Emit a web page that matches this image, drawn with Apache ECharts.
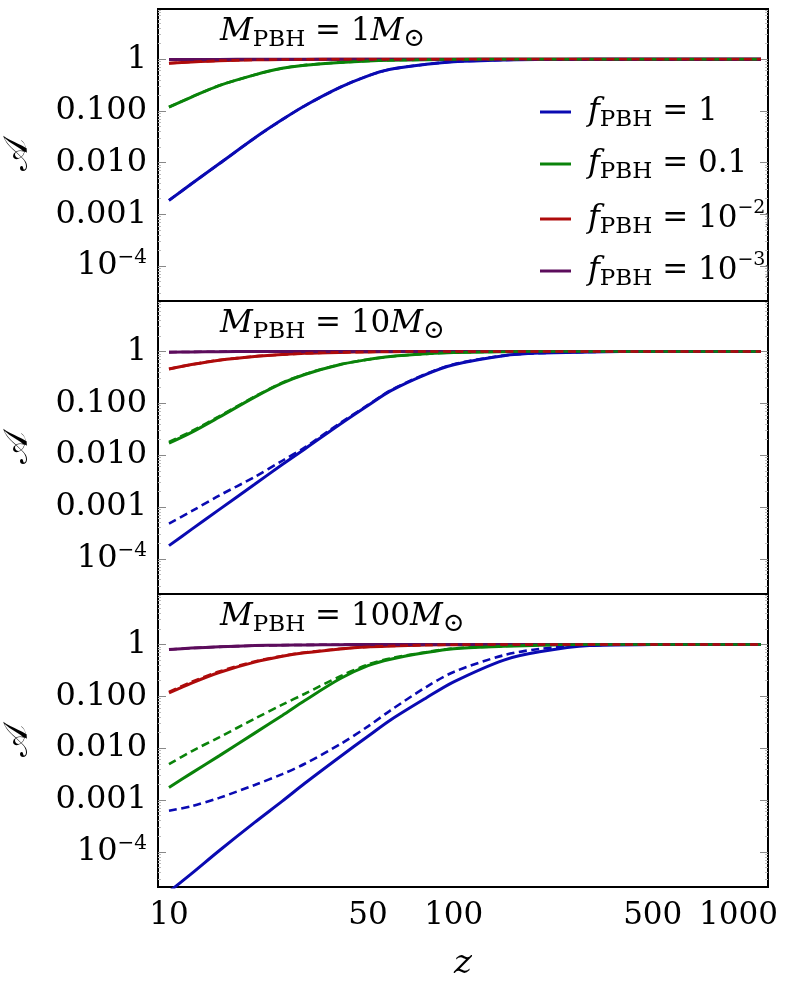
<!DOCTYPE html>
<html>
<head>
<meta charset="utf-8">
<script src="https://cdn.jsdelivr.net/npm/echarts@6/dist/echarts.min.js"></script>
<style>
html, body { margin: 0; padding: 0; background: #fff; }
#chart { width: 789px; height: 986px; }
</style>
</head>
<body>
<div id="chart"></div>
<script>
// redshift samples shared by every curve
const zValues = [10, 12, 15, 20, 25, 30, 40, 50, 60, 80, 100, 150, 200, 300, 500, 700, 1000, 1200];

// M_PBH = 1 Msun
const m1_f1 = [0.00186, 0.0039, 0.0095, 0.030, 0.068, 0.126, 0.288, 0.479, 0.64, 0.80, 0.90, 0.973, 0.991, 0.998, 1, 1, 1, 1];
const m1_f1_dash = [0.00186, 0.0039, 0.0095, 0.030, 0.068, 0.126, 0.288, 0.479, 0.64, 0.80, 0.90, 0.973, 0.991, 0.998, 1, 1, 1, 1];
const m1_f01 = [0.119, 0.186, 0.31, 0.50, 0.67, 0.77, 0.87, 0.93, 0.96, 0.984, 0.995, 1, 1, 1, 1, 1, 1, 1];
const m1_f01_dash = [0.119, 0.186, 0.31, 0.50, 0.67, 0.77, 0.87, 0.93, 0.96, 0.984, 0.995, 1, 1, 1, 1, 1, 1, 1];
const m1_f001 = [0.84, 0.89, 0.94, 0.975, 0.99, 0.995, 1, 1, 1, 1, 1, 1, 1, 1, 1, 1, 1, 1];
const m1_f001_dash = [0.84, 0.89, 0.94, 0.975, 0.99, 0.995, 1, 1, 1, 1, 1, 1, 1, 1, 1, 1, 1, 1];
const m1_f0001 = [0.985, 0.99, 0.995, 1, 1, 1, 1, 1, 1, 1, 1, 1, 1, 1, 1, 1, 1, 1];

// M_PBH = 10 Msun
const m10_f1 = [0.00018, 0.00037, 0.00089, 0.00275, 0.0066, 0.0132, 0.040, 0.091, 0.174, 0.363, 0.556, 0.83, 0.93, 0.98, 1, 1, 1, 1];
const m10_f1_dash = [0.00048, 0.00083, 0.00166, 0.0038, 0.0078, 0.0141, 0.042, 0.093, 0.178, 0.37, 0.565, 0.835, 0.93, 0.98, 1, 1, 1, 1];
const m10_f01 = [0.017, 0.0275, 0.054, 0.132, 0.245, 0.36, 0.56, 0.70, 0.80, 0.90, 0.955, 0.99, 1, 1, 1, 1, 1, 1];
const m10_f01_dash = [0.018, 0.029, 0.056, 0.135, 0.25, 0.365, 0.565, 0.70, 0.80, 0.90, 0.955, 0.99, 1, 1, 1, 1, 1, 1];
const m10_f001 = [0.46, 0.56, 0.68, 0.80, 0.87, 0.92, 0.96, 0.98, 0.99, 1, 1, 1, 1, 1, 1, 1, 1, 1];
const m10_f001_dash = [0.46, 0.56, 0.68, 0.80, 0.87, 0.92, 0.96, 0.98, 0.99, 1, 1, 1, 1, 1, 1, 1, 1, 1];
const m10_f0001 = [0.97, 0.98, 0.99, 1, 1, 1, 1, 1, 1, 1, 1, 1, 1, 1, 1, 1, 1, 1];

// M_PBH = 100 Msun
const m100_f1 = [0.000017, 0.000038, 0.000105, 0.00037, 0.00095, 0.0021, 0.0069, 0.017, 0.035, 0.093, 0.19, 0.50, 0.72, 0.95, 0.995, 1, 1, 1];
const m100_f1_dash = [0.00062, 0.00076, 0.0011, 0.00195, 0.00316, 0.0050, 0.0120, 0.0263, 0.0537, 0.151, 0.295, 0.62, 0.82, 0.966, 1, 1, 1, 1];
const m100_f01 = [0.00174, 0.0033, 0.0071, 0.0195, 0.0427, 0.083, 0.22, 0.39, 0.52, 0.70, 0.83, 0.92, 0.97, 0.993, 1, 1, 1, 1];
const m100_f01_dash = [0.0049, 0.0087, 0.0162, 0.037, 0.069, 0.112, 0.245, 0.41, 0.54, 0.71, 0.84, 0.93, 0.975, 0.995, 1, 1, 1, 1];
const m100_f001 = [0.116, 0.18, 0.288, 0.457, 0.59, 0.69, 0.82, 0.90, 0.933, 0.973, 0.989, 1, 1, 1, 1, 1, 1, 1];
const m100_f001_dash = [0.122, 0.19, 0.30, 0.47, 0.60, 0.70, 0.825, 0.90, 0.935, 0.974, 0.99, 1, 1, 1, 1, 1, 1, 1];
const m100_f0001 = [0.80, 0.85, 0.90, 0.95, 0.97, 0.98, 0.99, 1, 1, 1, 1, 1, 1, 1, 1, 1, 1, 1];

const xTickValues = [10, 50, 100, 500, 1000];
const yTickValues = [1e-4, 1e-3, 1e-2, 1e-1, 1];
const yTickLabels = ['{n|10}{s|−4}', '0.001', '0.010', '0.100', '1'];
const panelMasses = ['1', '10', '100'];

const fNames = ['f1', 'f01', 'f001', 'f0001'];
const fLabels = ['1', '0.1', '10{s|−2}', '10{s|−3}'];
const colors = ['#0a0ab2', '#0a830a', '#ae0b0b', '#5c0c5c'];

const panels = [
    { solid: [m1_f1, m1_f01, m1_f001, m1_f0001], dash: [m1_f1_dash, m1_f01_dash, m1_f001_dash, m1_f0001] },
    { solid: [m10_f1, m10_f01, m10_f001, m10_f0001], dash: [m10_f1_dash, m10_f01_dash, m10_f001_dash, m10_f0001] },
    { solid: [m100_f1, m100_f01, m100_f001, m100_f0001], dash: [m100_f1_dash, m100_f01_dash, m100_f001_dash, m100_f0001] }
];

const serif = 'DejaVu Serif';
const gridTops = [9, 301, 594];
const gridHeights = [292, 293, 293];

const pairs = ys => zValues.map((z, i) => [z, ys[i]]);

const yFormatter = v => {
    const k = yTickValues.findIndex(t => Math.abs(Math.log10(v) - Math.log10(t)) < 1e-6);
    return k < 0 ? '' : yTickLabels[k];
};

const grid = gridTops.map((top, i) => ({
    left: 158, width: 610, top: top, height: gridHeights[i],
    show: true, borderColor: '#000', borderWidth: 2,
    outerBoundsMode: 'none'
}));

const xAxis = gridTops.map((_, i) => ({
    type: 'log', gridIndex: i, min: 9.15, max: 1270,
    axisLine: { show: false },
    axisTick: { show: false },
    splitLine: { show: false },
    axisLabel: {
        show: i === 2,
        customValues: xTickValues,
        formatter: v => String(Math.round(v)),
        fontFamily: serif, fontSize: 31, color: '#000', margin: 13
    },
    name: i === 2 ? 'z' : '',
    nameLocation: 'middle',
    nameGap: 60,
    nameTextStyle: { fontFamily: serif, fontStyle: 'italic', fontSize: 34, color: '#000' }
}));

const yAxis = [];
gridTops.forEach((_, i) => {
    yAxis.push({
        type: 'log', gridIndex: i, min: 2.1e-5, max: 9.4,
        axisLine: { show: false },
        splitLine: { show: false },
        axisTick: { inside: true, length: 8, customValues: yTickValues, lineStyle: { color: '#888' } },
        minorTick: { show: true, splitNumber: 9, length: 3, lineStyle: { color: '#bbb' } },
        axisLabel: {
            customValues: yTickValues,
            formatter: yFormatter,
            fontFamily: serif, fontSize: 32, color: '#000', margin: 11,
            rich: {
                n: { fontFamily: serif, fontSize: 32, color: '#000', lineHeight: 36 },
                s: { fontFamily: serif, fontSize: 20, color: '#000', lineHeight: 16, verticalAlign: 'top' }
            }
        },
        name: '𝒜',
        nameLocation: 'middle',
        nameRotate: 90,
        nameGap: 123,
        nameTextStyle: { fontFamily: serif, fontSize: 34, color: '#000' }
    });
    yAxis.push({
        type: 'log', gridIndex: i, min: 2.1e-5, max: 9.4, position: 'right',
        axisLine: { show: false },
        splitLine: { show: false },
        axisLabel: { show: false },
        axisTick: { inside: true, length: 8, customValues: yTickValues, lineStyle: { color: '#888' } },
        minorTick: { show: true, splitNumber: 9, length: 3, lineStyle: { color: '#bbb' } }
    });
});

const series = [];
panels.forEach((p, i) => {
    const base = { type: 'line', xAxisIndex: i, yAxisIndex: i * 2, symbol: 'none', smooth: 0.3, silent: true };
    p.solid.forEach((ys, k) => {
        series.push(Object.assign({}, base, {
            name: fNames[k], data: pairs(ys),
            lineStyle: { color: colors[k], width: 3 }, itemStyle: { color: colors[k] }
        }));
    });
    [3, 0, 1, 2].forEach(k => {
        series.push(Object.assign({}, base, {
            name: fNames[k] + ' dashed', data: pairs(p.dash[k]),
            lineStyle: { color: colors[k], width: 2.6, type: [8, 4.5] }
        }));
    });
});

const titleRich = {
    m: { fontFamily: serif, fontStyle: 'italic', fontWeight: 'normal', fontSize: 32, color: '#000', lineHeight: 40 },
    p: { fontFamily: serif, fontWeight: 'normal', fontSize: 23, color: '#000', lineHeight: 22, verticalAlign: 'bottom' },
    e: { fontFamily: serif, fontWeight: 'normal', fontSize: 31, color: '#000', lineHeight: 40 },
    o: { fontFamily: serif, fontWeight: 'normal', fontSize: 26, color: '#000', lineHeight: 24, verticalAlign: 'bottom' }
};
const title = panelMasses.map((m, i) => ({
    left: 215, top: gridTops[i] - 2,
    text: '{m|M}{p|PBH}{e| = ' + m + '}{m|M}{o|⊙}',
    textStyle: { fontWeight: 'normal', rich: titleRich }
}));

const legendRich = {
    f: { fontFamily: serif, fontStyle: 'italic', fontSize: 32, color: '#000', lineHeight: 40, padding: [0, 0, 0, 12] },
    p: { fontFamily: serif, fontSize: 23, color: '#000', lineHeight: 22, verticalAlign: 'bottom' },
    e: { fontFamily: serif, fontSize: 31, color: '#000', lineHeight: 40 },
    s: { fontFamily: serif, fontSize: 19, color: '#000', lineHeight: 16, verticalAlign: 'top' }
};
const legendRows = [111, 163, 214, 266];
const legend = fNames.map((name, k) => ({
    data: [name],
    left: 535, top: legendRows[k] - 20,
    icon: 'rect', itemWidth: 31, itemHeight: 3,
    formatter: () => '{f|f}{p|PBH}{e| = ' + fLabels[k].replace(/\{s\|/, '}{s|') + '}',
    textStyle: { rich: legendRich },
    selectedMode: false
}));

const chart = echarts.init(document.getElementById('chart'));
chart.setOption({
    animation: false,
    backgroundColor: '#fff',
    title, legend, grid, xAxis, yAxis, series
});
</script>
</body>
</html>
